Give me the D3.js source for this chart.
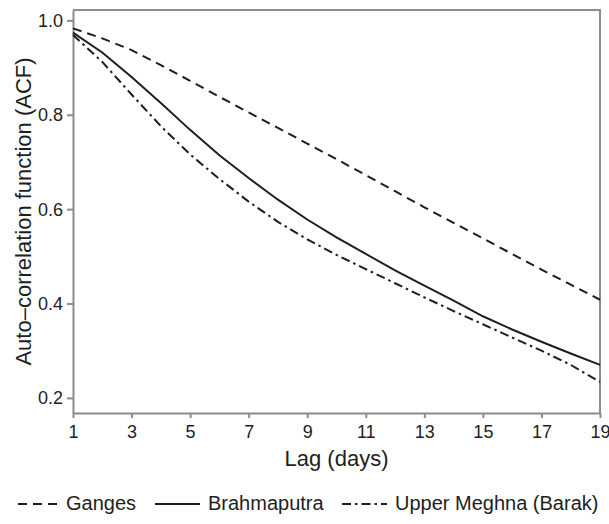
<!DOCTYPE html>
<html>
<head>
<meta charset="utf-8">
<script src="https://cdn.jsdelivr.net/npm/d3@7"></script>
<style>
  body { margin: 0; background: #fff; }
</style>
</head>
<body>
<svg id="chart" width="609" height="524" font-family="Liberation Sans, Arial, sans-serif"></svg>
<script>
// lag in days
const lags = d3.range(1, 20);

// ACF values
const ganges = [0.983, 0.962, 0.937, 0.905, 0.872, 0.838, 0.805, 0.772, 0.739, 0.706,
                0.672, 0.638, 0.604, 0.571, 0.538, 0.505, 0.472, 0.440, 0.408];
const brahmaputra = [0.974, 0.932, 0.880, 0.825, 0.768, 0.714, 0.666, 0.620, 0.578, 0.540,
                     0.505, 0.470, 0.438, 0.406, 0.373, 0.345, 0.319, 0.294, 0.270];
const meghna = [0.969, 0.912, 0.843, 0.776, 0.716, 0.664, 0.616, 0.573, 0.536, 0.503,
                0.473, 0.443, 0.413, 0.384, 0.356, 0.328, 0.300, 0.270, 0.234];

const xTicks = [1, 3, 5, 7, 9, 11, 13, 15, 17, 19];
const yTicks = [0.2, 0.4, 0.6, 0.8, 1.0];

const series = [
    { name: 'Ganges', values: ganges, dash: '9,6' },
    { name: 'Brahmaputra', values: brahmaputra, dash: null },
    { name: 'Upper Meghna (Barak)', values: meghna, dash: '9,4,2.5,4' }
];

const margin = {top: 10, right: 9, bottom: 111, left: 73};
const width = 609, height = 524;
const innerWidth = width - margin.left - margin.right;
const innerHeight = height - margin.top - margin.bottom;

const svg = d3.select('#chart');
const g = svg.append('g')
    .attr('transform', `translate(${margin.left},${margin.top})`);

const x = d3.scaleLinear().domain([1, 19]).range([0, innerWidth]);
const y = d3.scaleLinear().domain([0.168, 1.022]).range([innerHeight, 0]);

const axisColor = '#8c8c8c';
const inkColor = '#1e1e1e';

// frame (top and right)
g.append('path')
    .attr('d', `M0,0H${innerWidth}V${innerHeight}`)
    .attr('fill', 'none')
    .attr('stroke', axisColor)
    .attr('stroke-width', 2);

const xAxis = g.append('g')
    .attr('transform', `translate(0,${innerHeight})`)
    .call(d3.axisBottom(x).tickValues(xTicks).tickSize(5).tickSizeOuter(0));

const yAxis = g.append('g')
    .call(d3.axisLeft(y).tickValues(yTicks).tickFormat(d3.format('.1f')).tickSize(6).tickSizeOuter(0));

[xAxis, yAxis].forEach(a => {
    a.attr('font-family', null).attr('font-size', null);
    a.select('.domain').attr('stroke', axisColor).attr('stroke-width', 2);
    a.selectAll('.tick line').attr('stroke', axisColor).attr('stroke-width', 2);
    a.selectAll('.tick text')
        .attr('fill', inkColor)
        .attr('font-size', 18)
        .attr('dy', null);
});
// place tick labels by baseline instead of em offsets
xAxis.selectAll('.tick text').attr('y', 25).attr('text-anchor', 'middle');
yAxis.selectAll('.tick text').attr('x', -10).attr('y', 6).attr('text-anchor', 'end');

const line = d3.line()
    .x((d, i) => x(lags[i]))
    .y(d => y(d));

g.selectAll('.series')
  .data(series)
  .enter().append('path')
    .attr('class', 'series')
    .attr('d', d => line(d.values))
    .attr('fill', 'none')
    .attr('stroke', inkColor)
    .attr('stroke-width', 2)
    .attr('stroke-dasharray', d => d.dash);

// axis titles
svg.append('text')
    .attr('x', margin.left + innerWidth / 2)
    .attr('y', 466)
    .attr('text-anchor', 'middle')
    .attr('fill', inkColor)
    .attr('font-size', 22)
    .text('Lag (days)');

svg.append('text')
    .attr('transform', `translate(31,${margin.top + innerHeight / 2}) rotate(-90)`)
    .attr('text-anchor', 'middle')
    .attr('fill', inkColor)
    .attr('font-size', 22)
    .text('Auto\u2013correlation function (ACF)');

// legend
const legendY = 510;
const legendItems = [
    { s: series[0], x0: 18, x1: 58, tx: 66 },
    { s: series[1], x0: 155, x1: 200, tx: 208 },
    { s: series[2], x0: 342, x1: 387, tx: 395 }
];
const legend = svg.append('g');
legendItems.forEach(it => {
    legend.append('line')
        .attr('x1', it.x0).attr('x2', it.x1)
        .attr('y1', legendY - 6).attr('y2', legendY - 6)
        .attr('stroke', inkColor)
        .attr('stroke-width', 2)
        .attr('stroke-dasharray', it.s.dash);
    legend.append('text')
        .attr('x', it.tx)
        .attr('y', legendY)
        .attr('fill', inkColor)
        .attr('font-size', 20)
        .text(it.s.name);
});
</script>
</body>
</html>
